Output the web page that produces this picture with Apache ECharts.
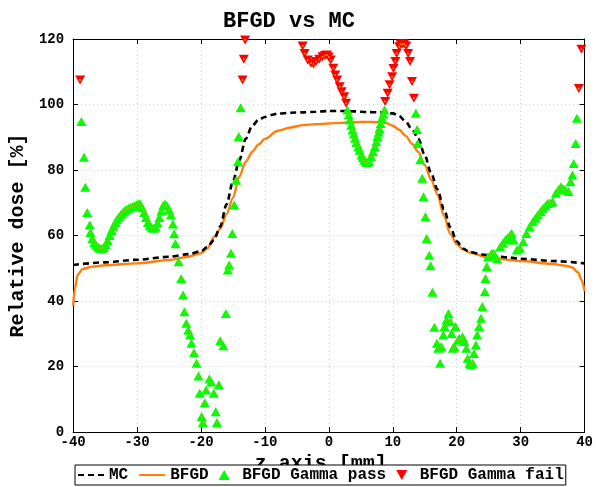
<!DOCTYPE html>
<html>
<head>
<meta charset="utf-8">
<script src="https://cdn.jsdelivr.net/npm/echarts@6/dist/echarts.min.js"></script>
<style>html,body{margin:0;padding:0;background:#fff;}#c{width:596px;height:487px;}</style>
</head>
<body>
<div id="c"></div>
<script>
// ---- data ----
const mcX = [-40,-35,-30,-25,-22,-20,-19,-18,-17,-16,-15,-14,-13,-12,-11,-10,-9,-8,-6,-4,-2,0,2,4,6,8,9,10,11,12,13,14,15,16,17,18,19,20,21,22,24,26,28,30,35,40];
const mcY = [51.0,51.8,52.6,53.5,54.3,55.2,56.5,58.5,62.7,69.5,76.5,83.0,89.5,93.5,95.3,96.2,96.8,97.2,97.5,97.6,97.8,98.0,98.0,97.9,97.7,97.6,97.5,97.3,96.5,94.8,92.5,89.5,84.5,79.0,74.0,68.0,62.5,58.2,56.0,55.0,54.2,53.7,53.3,52.9,52.2,51.5];
const bfgdX = [-40,-39.7,-39.3,-38.5,-37,-35,-30,-25,-22,-20,-19,-18,-17,-16,-15,-14,-13,-12,-11,-10,-8,-6,-4,-2,0,2,4,6,8,9,10,11,12,13,14,15,16,17,18,19,20,21,22,25,30,35,37,38,39,39.5,40];
const bfgdY = [38.5,44.0,48.0,49.8,50.5,50.9,51.5,52.5,53.5,54.6,56.0,59.5,62.0,66.5,71.5,78.0,82.5,85.5,87.8,89.5,92.0,93.0,93.7,94.0,94.2,94.4,94.6,94.7,94.6,94.3,93.5,92.3,90.5,88.0,85.5,81.5,77.0,72.5,66.0,60.5,57.3,55.8,54.8,53.2,52.2,51.3,50.8,50.3,48.7,46.5,43.0];
const gammaPass = [
 [-38.7,94.8],[-38.3,83.9],[-38.1,74.7],[-37.8,67.0],[-37.4,63.2],[-37.3,60.9],
 [-37.0,59.0],[-36.7,57.8],[-36.4,57.0],[-36.1,56.4],[-35.8,56.1],[-35.5,56.0],[-35.2,56.3],[-34.9,57.2],[-34.6,58.5],[-34.3,60.0],[-34.0,61.5],[-33.7,62.8],[-33.4,64.0],[-33.1,65.0],[-32.8,65.8],[-32.5,66.5],[-32.2,67.1],[-31.9,67.6],[-31.6,68.0],[-31.3,68.3],[-31.0,68.6],[-30.7,68.8],[-30.4,69.1],[-30.1,69.4],[-29.8,69.7],[-29.5,69.6],[-29.2,68.5],[-28.9,67.0],[-28.6,65.5],[-28.3,64.0],[-28.0,63.0],[-27.7,62.4],[-27.4,62.2],[-27.1,62.5],[-26.8,63.8],[-26.5,65.5],[-26.2,67.5],[-25.9,69.2],[-25.6,69.6],[-25.3,69.0],[-25.0,67.8],[-24.7,66.3],[-24.4,63.5],[-24.2,60.5],[-24.0,57.5],
 [-23.5,52.0],[-23.1,46.9],[-22.8,41.8],[-22.6,36.7],[-22.3,33.2],[-22.0,31.1],[-21.7,29.6],[-21.5,27.1],[-21.1,24.2],[-20.7,21.0],[-20.4,17.1],[-20.2,11.8],[-19.9,4.7],[-19.7,2.8],[-19.4,8.9],[-19.2,12.8],[-18.7,16.2],[-18.4,15.3],[-18.0,11.8],[-17.7,6.2],[-17.5,2.9],[-17.2,14.4],[-17.0,27.9],[-16.5,26.3],[-16.1,36.2],[-15.8,49.5],[-15.6,51.0],[-15.3,54.6],[-15.1,60.6],[-14.8,69.3],[-14.5,76.9],[-14.2,82.5],[-14.1,90.2],[-13.8,99.0],
 [2.9,98.3],[3.1,96.8],[3.3,95.3],[3.5,93.7],[3.7,92.2],[3.9,91.0],[4.1,89.7],[4.3,88.4],[4.6,87.1],[4.8,86.0],[5.1,84.6],[5.3,83.8],[5.5,83.0],[5.8,82.5],[6.0,82.3],[6.3,82.5],[6.6,84.1],[6.9,85.6],[7.2,87.1],[7.4,88.6],[7.6,90.2],[7.8,91.5],[7.9,92.7],[8.1,94.2],[8.3,95.8],[8.5,97.0],[8.7,98.3],
 [13.6,97.3],[13.8,92.4],[13.9,88.1],[14.3,83.1],[14.6,77.5],[14.8,71.8],[15.1,65.7],[15.3,59.1],[15.7,54.0],[15.9,50.8],[16.2,42.7],
 [16.5,32.0],[16.9,27.1],[17.1,25.6],[17.4,21.0],[17.6,26.1],[17.9,29.6],[18.1,32.2],[18.4,34.2],[18.7,36.2],[19.0,33.7],[19.2,30.1],[19.4,25.6],[19.6,26.1],[19.8,32.2],[20.2,28.1],[20.4,28.6],[20.7,28.1],[20.9,29.1],[21.2,27.6],[21.5,25.6],[21.7,22.5],[22.0,21.0],[22.2,20.5],[22.5,21.0],[22.7,24.0],[23.0,26.6],[23.2,29.6],[23.5,32.2],[23.8,34.7],[24.0,38.3],[24.4,42.8],[24.5,46.9],[24.7,50.5],[24.9,53.5],
 [25.3,54.0],[25.5,54.6],[25.8,54.6],[26.3,53.0],[26.8,56.6],[27.2,57.6],[27.6,58.6],[28.0,59.5],[28.4,60.2],[28.6,60.6],[28.9,58.6],[29.4,55.6],[29.9,56.1],[30.4,58.1],[30.9,60.6],[31.4,62.7],[31.9,64.2],[32.3,65.3],[32.7,66.3],[33.1,67.3],[33.5,68.3],[33.9,69.1],[34.2,69.8],[34.6,70.0],[35.0,70.3],[35.5,72.9],[35.9,74.0],[36.3,74.9],[36.7,74.3],[37.0,73.9],[37.5,73.4],[37.8,76.4],[38.1,78.5],[38.3,82.0],[38.6,88.1],[38.8,95.8]
];
const gammaFail = [
 [-38.9,107.5],[-13.5,107.5],[-13.3,113.8],[-13.1,119.7],
 [-4.1,117.9],[-3.8,115.6],[-3.3,113.6],[-2.8,112.6],[-2.4,112.4],[-2.0,113.1],[-1.5,113.8],[-1.0,114.6],[-0.6,115.0],[-0.3,115.1],[0.0,114.5],[0.3,113.6],[0.7,111.1],[1.0,109.0],[1.3,107.5],[1.7,105.4],[2.0,103.9],[2.4,102.4],[2.7,100.4],
 [8.8,100.9],[9.2,103.4],[9.5,106.0],[9.9,108.5],[10.1,111.0],[10.4,113.1],[10.6,115.6],[11.0,117.6],[11.2,118.5],[11.5,118.4],[11.8,118.5],[12.1,117.9],[12.4,115.6],[12.7,113.1],[13.0,107.0],[13.3,101.9],
 [39.1,104.9],[39.5,116.9]
];
const titleText = 'BFGD vs MC';
const xName = 'z axis [mm]';
const yName = 'Relative dose [%]';
const legendNames = ['MC','BFGD','BFGD Gamma pass','BFGD Gamma fail'];

// ---- chart ----
const FONT = "'Liberation Mono', 'DejaVu Sans Mono', monospace";
const zip = (a, b) => a.map((v, i) => [v, b[i]]);
const chart = echarts.init(document.getElementById('c'), null, {renderer: 'canvas'});
const axisCommon = {
  axisLine: {show: true, onZero: false, lineStyle: {color: '#000', width: 1}},
  axisTick: {show: true, inside: true, length: 5, lineStyle: {color: '#000'}},
  splitLine: {show: false}
};
const upTri = 'path://M5,0 L10,9 L0,9 Z';
const downTri = 'path://M0,0 L10,0 L5,9 Z';
chart.setOption({
  animation: false,
  backgroundColor: '#fff',
  title: {
    text: titleText, left: 218, top: 5,
    textStyle: {fontFamily: FONT, fontWeight: 'bold', fontSize: 22, color: '#000'}
  },
  grid: {left: 64, right: 9.5, top: 39, bottom: 55, containLabel: false},
  legend: {
    data: [
      {name: legendNames[0], itemStyle: {opacity: 0}},
      {name: legendNames[1], itemStyle: {opacity: 0}},
      {name: legendNames[2], icon: upTri},
      {name: legendNames[3], icon: downTri}
    ],
    left: 75, top: 465, symbolKeepAspect: true,
    padding: [2, 2, 2, 2], itemGap: 10, itemWidth: 26, itemHeight: 10,
    backgroundColor: '#fff', borderColor: '#000', borderWidth: 1, z: 10,
    textStyle: {fontFamily: FONT, fontWeight: 'bold', fontSize: 16, color: '#000'}
  },
  xAxis: [
    Object.assign({}, axisCommon, {
      type: 'value', min: -40, max: 40, interval: 10, position: 'bottom',
      name: xName, nameLocation: 'middle', nameGap: 11,
      nameTextStyle: {fontFamily: FONT, fontWeight: 'bold', fontSize: 20, color: '#000', padding: [0, 16, 0, 0]},
      axisLabel: {fontFamily: FONT, fontWeight: 'bold', fontSize: 14, color: '#000', margin: 3},
      splitLine: {show: true, lineStyle: {color: '#d0d0d0', type: [1, 3], width: 1}}
    }),
    Object.assign({}, axisCommon, {
      type: 'value', min: -40, max: 40, interval: 10, position: 'top',
      axisLabel: {show: false}
    })
  ],
  yAxis: [
    Object.assign({}, axisCommon, {
      type: 'value', min: 0, max: 120, interval: 20, position: 'left',
      name: yName, nameLocation: 'middle', nameGap: 40,
      nameTextStyle: {fontFamily: FONT, fontWeight: 'bold', fontSize: 20, color: '#000'},
      axisLabel: {fontFamily: FONT, fontWeight: 'bold', fontSize: 14, color: '#000', margin: 9},
      splitLine: {show: true, lineStyle: {color: '#d0d0d0', type: [1, 3], width: 1}}
    }),
    Object.assign({}, axisCommon, {
      type: 'value', min: 0, max: 120, interval: 20, position: 'right',
      axisLabel: {show: false}
    })
  ],
  series: [
    {
      name: 'MC', type: 'line', data: zip(mcX, mcY), symbol: 'none', showSymbol: false,
      smooth: 0.3, smoothMonotone: 'x', z: 3,
      lineStyle: {color: '#000', width: 2.6, type: [6, 4]}, itemStyle: {color: '#000'}
    },
    {
      name: 'BFGD', type: 'line', data: zip(bfgdX, bfgdY), symbol: 'none', showSymbol: false,
      smooth: 0.3, smoothMonotone: 'x', z: 2,
      lineStyle: {color: '#ff7f0e', width: 2.4}, itemStyle: {color: '#ff7f0e'}
    },
    {
      name: 'BFGD Gamma pass', type: 'scatter', data: gammaPass, symbol: upTri,
      symbolSize: [10, 9], z: 4, itemStyle: {color: '#00ff00', opacity: 1}
    },
    {
      name: 'BFGD Gamma fail', type: 'scatter', data: gammaFail, symbol: downTri,
      symbolSize: [10, 9], z: 4, itemStyle: {color: '#ff0000', opacity: 1}
    },
    {
      name: 'passDot', type: 'scatter', data: gammaPass, symbol: 'circle', symbolSize: 2,
      silent: true, z: 5, itemStyle: {color: '#ff8c1a'}
    },
    {
      name: 'failDot', type: 'scatter', data: gammaFail, symbol: 'circle', symbolSize: 2,
      silent: true, z: 5, itemStyle: {color: '#ffb000'}
    }
  ]
});
</script>
</body>
</html>
